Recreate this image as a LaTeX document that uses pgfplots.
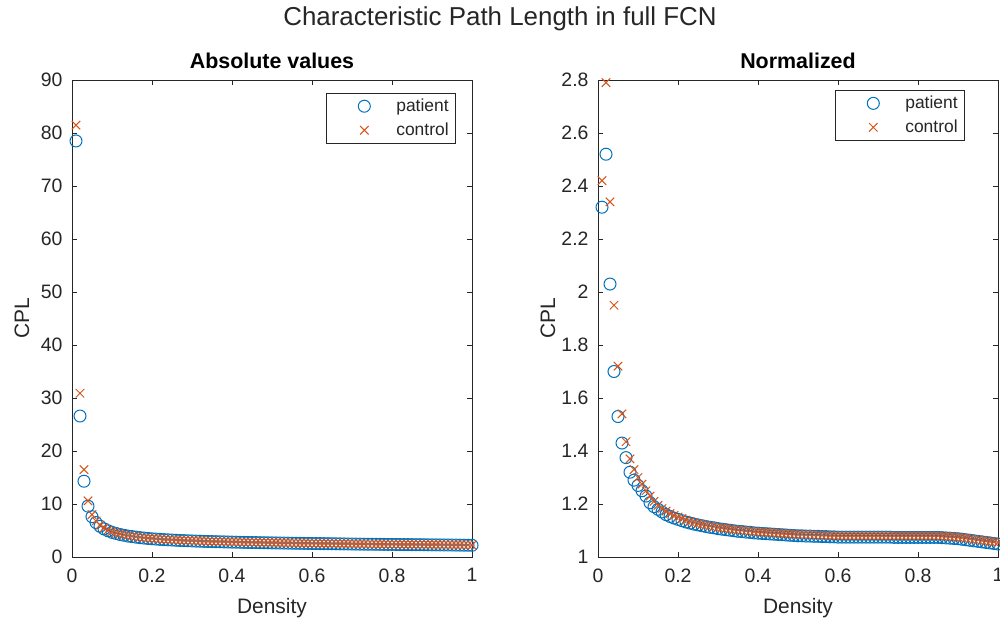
\documentclass[border=0pt]{standalone}
\usepackage{fontspec}
\setmainfont{Liberation Sans}
\usepackage{pgfplots}
\usepackage{pgfplotstable}
\pgfplotsset{compat=1.18}
\definecolor{mblue}{rgb}{0,0.447,0.741}
\definecolor{morange}{rgb}{0.85,0.325,0.098}
\definecolor{axgray}{rgb}{0.15,0.15,0.15}

\pgfplotstableread{
d pa ca pn cn
0.01 78.5 81.5 2.32 2.42
0.02 26.6 30.9 2.52 2.79
0.03 14.3 16.5 2.03 2.34
0.04 9.6 10.6 1.70 1.95
0.05 7.6 8.0 1.53 1.72
0.06 6.5 6.8 1.43 1.54
0.07 5.8 6.0 1.375 1.435
0.08 5.3 5.5 1.32 1.37
0.09 4.95 5.1 1.29 1.33
0.10 4.65 4.8 1.27 1.30
0.11 4.45 4.55 1.25 1.275
0.12 4.25 4.35 1.23 1.25
0.13 4.10 4.20 1.205 1.23
0.14 3.95 4.05 1.19 1.21
0.15 3.85 3.92 1.18 1.195
0.16 3.75 3.82 1.17 1.183
0.17 3.65 3.72 1.16 1.173
0.18 3.57 3.63 1.153 1.164
0.19 3.50 3.56 1.147 1.157
0.20 3.44 3.50 1.142 1.151
0.21 3.38 3.44 1.137 1.145
0.22 3.33 3.39 1.132 1.139
0.23 3.28 3.34 1.128 1.134
0.24 3.24 3.30 1.124 1.130
0.25 3.20 3.26 1.121 1.126
0.26 3.16 3.22 1.118 1.123
0.27 3.12 3.18 1.115 1.120
0.28 3.09 3.15 1.112 1.117
0.29 3.06 3.12 1.110 1.115
0.30 3.03 3.09 1.107 1.112
0.31 3.00 3.06 1.105 1.110
0.32 2.98 3.03 1.103 1.108
0.33 2.95 3.01 1.101 1.106
0.34 2.93 2.98 1.099 1.104
0.35 2.91 2.96 1.097 1.102
0.36 2.89 2.94 1.096 1.101
0.37 2.87 2.92 1.094 1.099
0.38 2.85 2.90 1.093 1.098
0.39 2.83 2.88 1.091 1.096
0.40 2.81 2.86 1.090 1.095
0.41 2.80 2.85 1.089 1.094
0.42 2.78 2.83 1.088 1.093
0.43 2.76 2.81 1.087 1.092
0.44 2.75 2.80 1.086 1.091
0.45 2.73 2.78 1.085 1.090
0.46 2.72 2.77 1.084 1.089
0.47 2.70 2.75 1.083 1.088
0.48 2.69 2.74 1.082 1.087
0.49 2.68 2.72 1.081 1.086
0.50 2.66 2.71 1.080 1.085
0.51 2.65 2.70 1.080 1.085
0.52 2.64 2.68 1.079 1.084
0.53 2.63 2.67 1.079 1.084
0.54 2.62 2.66 1.078 1.083
0.55 2.60 2.65 1.078 1.083
0.56 2.59 2.64 1.077 1.082
0.57 2.58 2.63 1.077 1.082
0.58 2.57 2.62 1.076 1.081
0.59 2.56 2.61 1.076 1.081
0.60 2.55 2.60 1.075 1.080
0.61 2.54 2.59 1.075 1.080
0.62 2.53 2.58 1.075 1.080
0.63 2.52 2.57 1.075 1.080
0.64 2.51 2.56 1.075 1.080
0.65 2.50 2.55 1.075 1.080
0.66 2.49 2.54 1.075 1.080
0.67 2.48 2.53 1.075 1.080
0.68 2.47 2.52 1.075 1.080
0.69 2.46 2.51 1.075 1.080
0.70 2.45 2.50 1.075 1.080
0.71 2.44 2.49 1.075 1.080
0.72 2.43 2.48 1.075 1.080
0.73 2.42 2.47 1.075 1.080
0.74 2.41 2.46 1.074 1.080
0.75 2.41 2.45 1.074 1.080
0.76 2.40 2.44 1.074 1.080
0.77 2.39 2.43 1.074 1.080
0.78 2.38 2.42 1.074 1.080
0.79 2.37 2.41 1.074 1.080
0.80 2.37 2.41 1.074 1.080
0.81 2.36 2.40 1.074 1.080
0.82 2.35 2.39 1.074 1.080
0.83 2.34 2.38 1.074 1.080
0.84 2.34 2.38 1.074 1.080
0.85 2.33 2.37 1.074 1.080
0.86 2.32 2.36 1.073 1.079
0.87 2.32 2.36 1.072 1.078
0.88 2.31 2.35 1.071 1.077
0.89 2.30 2.34 1.070 1.076
0.90 2.29 2.33 1.069 1.075
0.91 2.29 2.33 1.067 1.073
0.92 2.28 2.32 1.065 1.071
0.93 2.27 2.31 1.063 1.069
0.94 2.27 2.31 1.061 1.067
0.95 2.26 2.30 1.059 1.065
0.96 2.25 2.29 1.057 1.063
0.97 2.24 2.28 1.055 1.061
0.98 2.23 2.27 1.053 1.059
0.99 2.22 2.26 1.051 1.057
1.00 2.21 2.25 1.049 1.055
}\cpl

\pgfplotsset{
  mystyle/.style={
    scale only axis,
    width=400bp, height=477bp,
    xmin=0, xmax=1,
    xtick={0,0.2,0.4,0.6,0.8,1},
    axis line style={draw=axgray, line width=0.7bp},
    every tick/.style={draw=axgray, line width=0.7bp},
    major tick length=5bp,
    tick align=inside,
    xtick pos=both, ytick pos=both,
    tick label style={font=\fontsize{19.5}{22}\selectfont, text=axgray},
    /pgf/number format/assume math mode=true,
    xticklabel style={yshift=-8bp},
    yticklabel style={xshift=-6bp},
    label style={font=\fontsize{21}{24}\selectfont, text=axgray},
    xlabel style={at={(0.5,0)}, anchor=center, yshift=-51bp},
    ylabel style={at={(0,0.5)}, anchor=center, yshift=50bp},
    title style={font=\fontsize{21.5}{24}\selectfont\bfseries, at={(0.5,1)}, anchor=center, yshift=13bp},
    xlabel={Density}, ylabel={CPL},
    legend cell align=left,
    legend style={draw=axgray, line width=0.7bp, font=\fontsize{17.5}{20}\selectfont,
      text=axgray, anchor=north east, inner xsep=5bp, inner ysep=3bp,
      /tikz/every even column/.append style={column sep=3bp}, row sep=4bp},
    legend image code/.code={\path[draw=none, fill=none] (0bp,-10bp) rectangle (63bp,10bp); \draw[#1] plot coordinates {(33bp,0bp)};},
    every axis plot/.append style={only marks, line width=1bp, mark size=6bp},
    scaled ticks=false,
  }
}

\begin{document}
\begin{tikzpicture}
\useasboundingbox (0,0) rectangle (1000bp,620bp);
\node[font=\fontsize{26}{30}\selectfont, text=axgray] at (500bp,601bp) {Characteristic Path Length in full FCN};

\begin{axis}[mystyle, at={(72bp,63bp)}, anchor=south west,
  ymin=0, ymax=90, ytick={0,10,...,90},
  title={Absolute values},
  legend style={at={(0.96,0.973)}}]
\addplot[mblue, mark=o] table[x=d, y=pa] {\cpl};
\addlegendentry{patient}
\addplot[morange, mark=x] table[x=d, y=ca] {\cpl};
\addlegendentry{control}
\end{axis}

\begin{axis}[mystyle, at={(598bp,63bp)}, anchor=south west,
  ymin=1, ymax=2.8, ytick={1,1.2,...,2.8},
  yticklabel style={/pgf/number format/fixed, /pgf/number format/precision=1},
  title={Normalized},
  legend style={at={(0.9175,0.979)}}]
\addplot[mblue, mark=o] table[x=d, y=pn] {\cpl};
\addlegendentry{patient}
\addplot[morange, mark=x] table[x=d, y=cn] {\cpl};
\addlegendentry{control}
\end{axis}
\end{tikzpicture}
\end{document}
